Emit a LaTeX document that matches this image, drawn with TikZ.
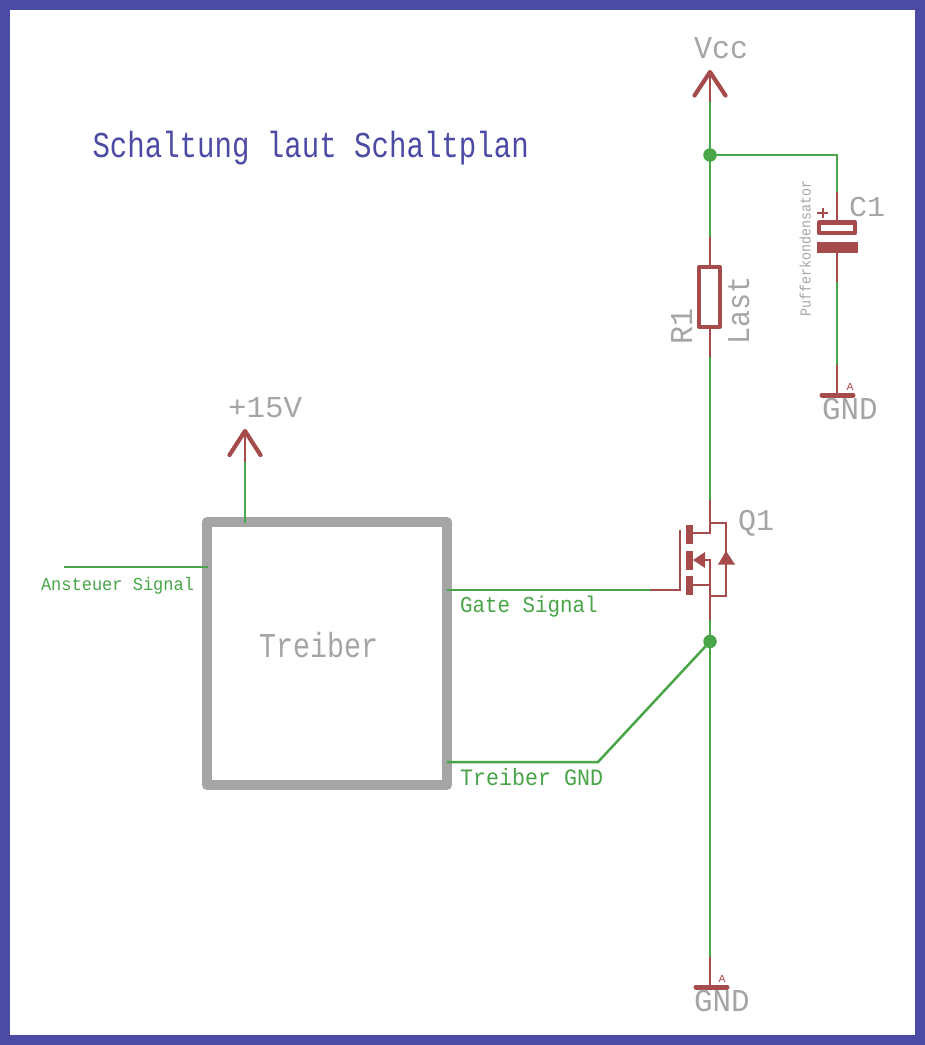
\documentclass[tikz,border=0pt]{standalone}
\usepackage{fontspec}
\usepackage{graphicx}
\setmainfont{Liberation Mono}
\definecolor{egreen}{HTML}{48A548}
\definecolor{ered}{HTML}{A54B4B}
\definecolor{egray}{HTML}{A5A5A5}
\definecolor{eblue}{HTML}{4B4BA5}
\newcommand\vf[3]{\pgfmathsetmacro\fsz{#1/.66}\pgfmathsetmacro\sxx{#2/(.6*\fsz)}\scalebox{\sxx}[1]{\fontsize{\fsz pt}{\fsz pt}\selectfont #3}}
\tikzset{
  vtext/.style={anchor=base west,inner sep=0pt,outer sep=0pt},
  vup/.style={vtext,rotate=90},
  wire/.style={draw=egreen,line width=2.5pt},
  pin/.style={draw=ered,line width=2.6pt},
  sym/.style={draw=ered,line width=4.2pt,line cap=round,line join=round},
  plate/.style={fill=ered,draw=none},
  junction/.style={circle,fill=egreen,draw=none,inner sep=0pt,minimum size=13.5pt},
  box/.style={draw=egray,line width=10pt,line join=round},
  frameline/.style={draw=eblue,line width=10pt}
}
\begin{document}
\begin{tikzpicture}[x=1pt,y=-1pt]
\useasboundingbox (0,0) rectangle (925,1045);
\fill[white] (0,0) rectangle (925,1045);
\draw[frameline] (5,5) rectangle (920,1040);

% coordinates
\coordinate (vccTop) at (710,72);
\coordinate (vccL) at (694.5,95.5);
\coordinate (vccR) at (725.5,95.5);
\coordinate (vccPin) at (710,102);
\coordinate (rTop) at (710,237);
\coordinate (rA) at (710,266);
\coordinate (rB) at (710,328);
\coordinate (rBot) at (710,357);
\coordinate (qTop) at (710,500);
\coordinate (qBot) at (710,620);
\coordinate (gndPin) at (710,957);
\coordinate (gndBar) at (710,987);
\coordinate (capCorner) at (837,155);
\coordinate (capTop) at (837,192);
\coordinate (capA) at (837,221);
\coordinate (capB) at (837,253);
\coordinate (capBot) at (837,282);
\coordinate (cgndPin) at (837,365);
\coordinate (cgndBar) at (837,395);
\coordinate (pTop) at (245,431);
\coordinate (pL) at (229.5,455);
\coordinate (pR) at (260.5,455);
\coordinate (pPin) at (245,462);
\coordinate (pIn) at (245,523);
\coordinate (sigL) at (64,567);
\coordinate (sigR) at (208,567);
\coordinate (gateL) at (447,590);
\coordinate (gateM) at (650,590);
\coordinate (gateC) at (680,590);
\coordinate (gateU) at (680,530);
\coordinate (drvL) at (447,762);
\coordinate (drvM) at (598,762);

% Treiber
\draw[box] (207,522) rectangle (447,785);

% nets
\node[junction] (j1) at (710,155) {};
\node[junction] (j2) at (710,641.5) {};
\draw[wire] (vccPin) -- (rTop);
\draw[wire] (j1.center) -- (capCorner) -- (capTop);
\draw[wire] (rBot) -- (qTop);
\draw[wire] (qBot) -- (gndPin);
\draw[wire] (capBot) -- (cgndPin);
\draw[wire] (pPin) -- (pIn);
\draw[wire] (sigL) -- (sigR);
\draw[wire] (gateL) -- (gateM);
\draw[wire] (drvL) -- (drvM) -- (j2.center);

% Vcc
\draw[pin] (vccTop) -- (vccPin);
\draw[sym] (vccL) -- (vccTop) -- (vccR);
% +15V
\draw[pin] (pTop) -- (pPin);
\draw[sym] (pL) -- (pTop) -- (pR);

% R1
\draw[pin] (rTop) -- (rA);
\draw[pin] (rB) -- (rBot);
\draw[sym,line join=round,line width=4pt] (699,267) rectangle (720,326.5);

% C1
\draw[pin] (capTop) -- (capA);
\draw[pin] (capB) -- (capBot);
\draw[sym,line width=4.4pt] (819,222.5) rectangle (855,233);
\fill[plate] (817,242) rectangle (858,253);
\draw[ered,line width=2.4pt] (817,213) -- (828,213);
\draw[ered,line width=2.4pt] (823,208) -- (823,218);

% GND symbols
\draw[pin] (cgndPin) -- (cgndBar);
\draw[sym,line width=5pt] (822,395) -- (853,395);
\draw[pin] (gndPin) -- (gndBar);
\draw[sym,line width=5pt] (696,987) -- (727,987);

% Q1
\draw[pin] (gateM) -- (gateC) -- (gateU);
\fill[plate] (686,525) rectangle (693,543.5);
\fill[plate] (686,551) rectangle (693,569.5);
\fill[plate] (686,576) rectangle (693,595);
\draw[pin] (qTop) -- (710,533) -- (693,533);
\draw[pin] (710,523) -- (726,523) -- (726,596) -- (710,596);
\draw[pin] (693,585) -- (710,585);
\draw[pin] (705,560) -- (710,560) -- (qBot);
\fill[ered] (693,560) -- (705,552) -- (705,568) -- cycle;
\fill[ered] (726,551) -- (718,564.5) -- (735,564.5) -- cycle;

% text
\node[vtext,text=eblue] (title) at (92.5,157) {\vf{24}{17.45}{Schaltung laut Schaltplan}};
\node[vtext,text=egray] (tVcc) at (694,58) {\vf{21}{18}{Vcc}};
\node[vtext,text=egray] (tC) at (849,216) {\vf{19}{18}{C1}};
\node[vup,text=egray] (tPuf) at (810.5,316.5) {\vf{10}{8}{Pufferkondensator}};
\node[vup,text=egray] (tR) at (692,344) {\vf{21}{18}{R1}};
\node[vup,text=egray] (tL) at (749,344) {\vf{21}{17}{Last}};
\node[vtext,text=ered] (tA1) at (846.5,390) {\vf{7}{7}{A}};
\node[vtext,text=egray] (tG1) at (822,419) {\vf{21}{18.5}{GND}};
\node[vtext,text=egray] (tP) at (228,417) {\vf{20}{18.5}{+15V}};
\node[vtext,text=egray] (tQ) at (738,530) {\vf{20}{18}{Q1}};
\node[vtext,text=egray] (tT) at (259,657) {\vf{23}{17}{Treiber}};
\node[vtext,text=egreen] (tS) at (41,590) {\vf{12}{10.2}{Ansteuer Signal}};
\node[vtext,text=egreen] (tGa) at (460,612) {\vf{15}{12.5}{Gate Signal}};
\node[vtext,text=egreen] (tTG) at (460,785) {\vf{15.5}{13}{Treiber GND}};
\node[vtext,text=ered] (tA2) at (718.5,982) {\vf{7}{7}{A}};
\node[vtext,text=egray] (tG2) at (694,1011) {\vf{21}{18.5}{GND}};
\end{tikzpicture}
\end{document}
